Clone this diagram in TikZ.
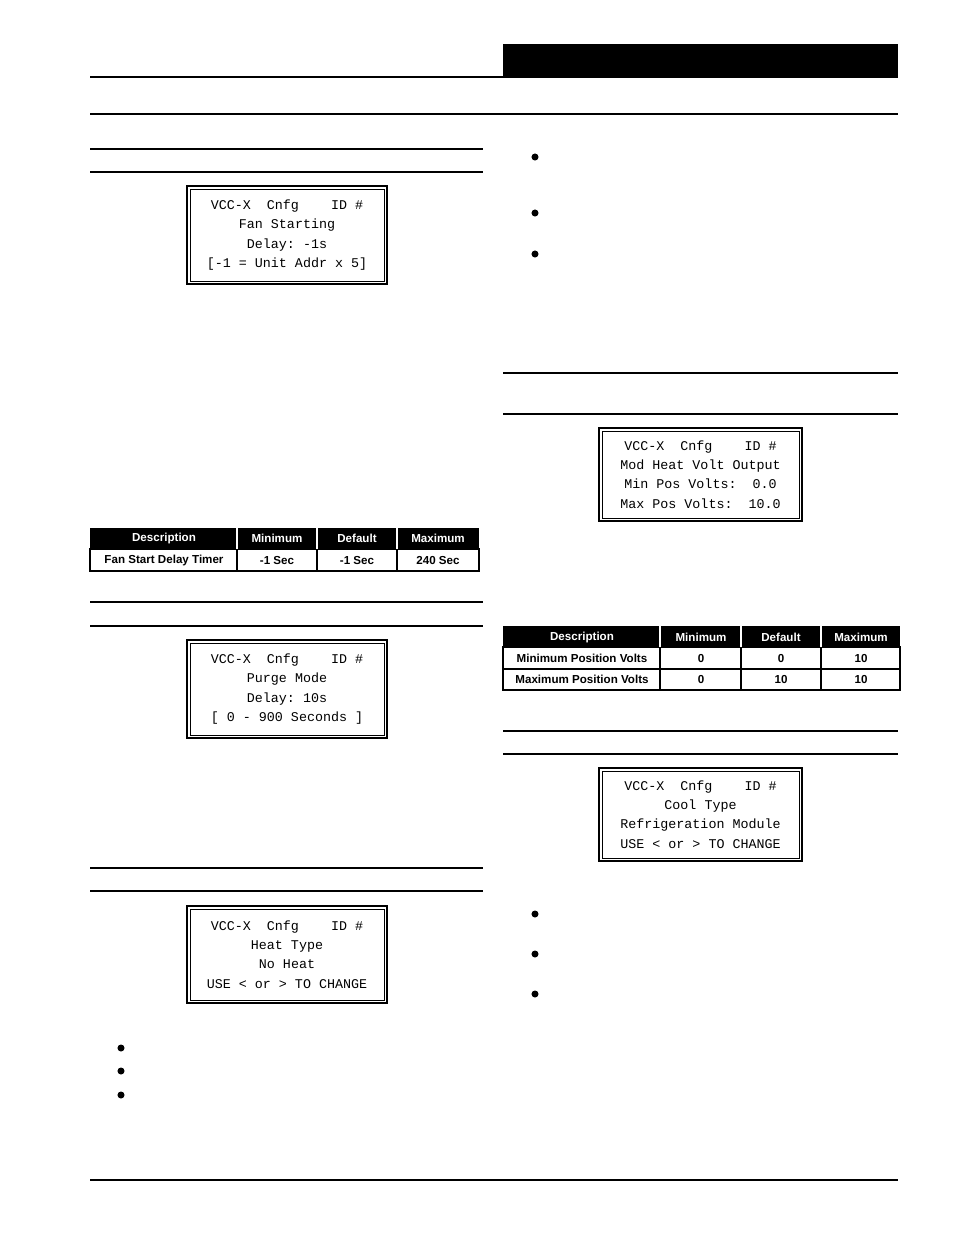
\documentclass[tikz,border=0pt]{standalone}
\usepackage{fontspec}
\setsansfont{Liberation Sans}
\setmonofont{Liberation Mono}
\tikzset{
  rule/.style={line width=1.3pt},
  thinrule/.style={line width=0.9pt},
  lcdtext/.style={font=\ttfamily\fontsize{7.6}{11}\selectfont, align=center, inner sep=0pt},
  head/.style={text=white, font=\sffamily\bfseries\fontsize{6.6}{8}\selectfont, inner sep=0pt},
  cell/.style={font=\sffamily\bfseries\fontsize{6.6}{8}\selectfont, inner sep=0pt},
  bull/.style={circle, fill=black, inner sep=0pt, minimum size=4pt},
}
\newcommand{\lcd}[4]{%
  \draw[line width=1pt] (#1) rectangle (#2);
  \draw[line width=0.4pt] ($(#1)+(3,3)$) rectangle ($(#2)+(-3,-3)$);
  \node[lcdtext] (#3) at ($(#1)!0.5!(#2)$) {#4};
}
\usetikzlibrary{calc}
\begin{document}
\begin{tikzpicture}[x=0.02cm, y=-0.02cm]
\useasboundingbox (0,0) rectangle (954,1235);
% header bar
\fill (503,44) rectangle (898,78);
\draw[line width=1.6pt] (90,77) -- (898,77);
\draw[rule] (90,114) -- (898,114);
% left column rules
\draw[line width=1.6pt] (90,149) -- (483,149);
\draw[thinrule] (90,172) -- (483,172);
\draw[line width=1.6pt] (90,602) -- (483,602);
\draw[thinrule] (90,626) -- (483,626);
\draw[line width=1.6pt] (90,868) -- (483,868);
\draw[thinrule] (90,891) -- (483,891);
% right column rules
\draw[line width=1.6pt] (503,373) -- (898,373);
\draw[thinrule] (503,414) -- (898,414);
\draw[line width=1.6pt] (503,731) -- (898,731);
\draw[thinrule] (503,754) -- (898,754);
\draw[line width=1.6pt] (90,1180) -- (898,1180);
% displays
\lcd{187,186}{387,284}{fanlcd}{VCC-X\ \ Cnfg\ \ \ \ ID \#\\Fan Starting\\Delay: -1s\\{}[-1 = Unit Addr x 5]}
\lcd{187,640}{387,738}{purgelcd}{VCC-X\ \ Cnfg\ \ \ \ ID \#\\Purge Mode\\Delay: 10s\\{}[ 0 - 900 Seconds ]}
\lcd{187,906}{387,1003}{heatlcd}{VCC-X\ \ Cnfg\ \ \ \ ID \#\\Heat Type\\No Heat\\USE < or > TO CHANGE}
\lcd{599,428}{802,521}{modlcd}{VCC-X\ \ Cnfg\ \ \ \ ID \#\\Mod Heat Volt Output\\Min Pos Volts:\ \ 0.0\\Max Pos Volts:\ \ 10.0}
\lcd{599,768}{802,861}{coollcd}{VCC-X\ \ Cnfg\ \ \ \ ID \#\\Cool Type\\Refrigeration Module\\USE < or > TO CHANGE}
% table 1
\fill (90,528) rectangle (479,549);
\draw[line width=0.8pt] (90,549) rectangle (479,571);
\foreach \cx in {237,317,397} \draw[white, line width=1pt] (\cx,528) -- (\cx,549);
\foreach \cx in {237,317,397} \draw[line width=0.8pt] (\cx,549) -- (\cx,571);
\node[head] (fanhd) at (164,538) {Description};
\node[head] (fanmin) at (277,538) {Minimum};
\node[head] (fandef) at (357,538) {Default};
\node[head] (fanmax) at (438,538) {Maximum};
\node[cell] (fanrow) at (164,560) {Fan Start Delay Timer};
\node[cell] at (277,560) {-1 Sec};
\node[cell] at (357,560) {-1 Sec};
\node[cell] at (438,560) {240 Sec};
% table 2
\fill (503,626) rectangle (900,647);
\draw[line width=0.8pt] (503,647) rectangle (900,690);
\draw[line width=0.8pt] (503,669) -- (900,669);
\foreach \cx in {660,741,821} \draw[white, line width=1pt] (\cx,626) -- (\cx,647);
\foreach \cx in {660,741,821} \draw[line width=0.8pt] (\cx,647) -- (\cx,690);
\node[head] (modhd) at (582,637) {Description};
\node[head] at (701,637) {Minimum};
\node[head] at (781,637) {Default};
\node[head] at (861,637) {Maximum};
\node[cell] (minrow) at (582,658) {Minimum Position Volts};
\node[cell] at (701,658) {0};
\node[cell] at (781,658) {0};
\node[cell] at (861,658) {10};
\node[cell] (maxrow) at (582,679) {Maximum Position Volts};
\node[cell] at (701,679) {0};
\node[cell] at (781,679) {10};
\node[cell] at (861,679) {10};
% bullets
\foreach \by in {1048,1071,1095} \node[bull] at (121,\by) {};
\foreach \by in {157,213,254,914,954,994} \node[bull] at (535,\by) {};
\end{tikzpicture}
\end{document}
